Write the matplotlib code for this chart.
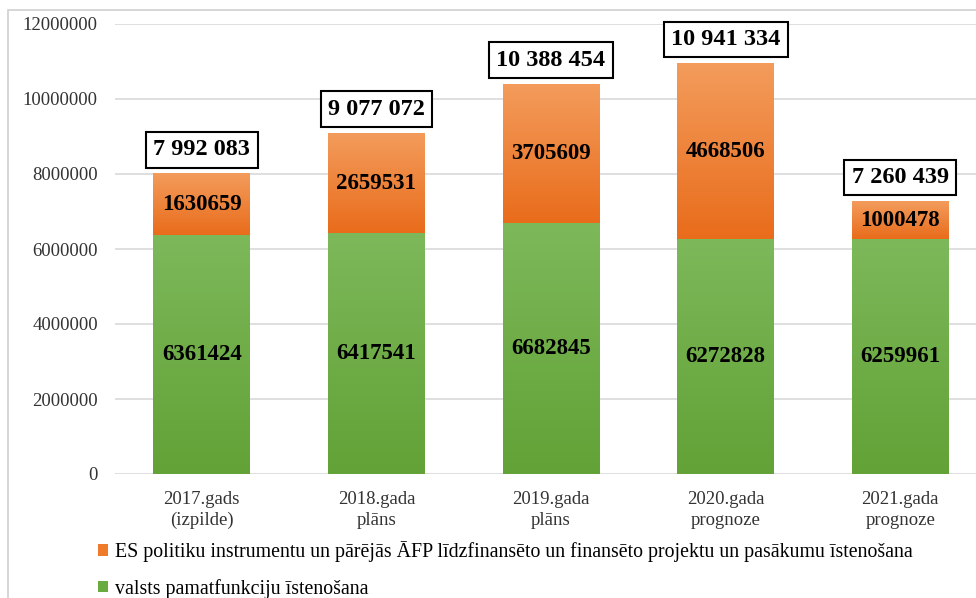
import numpy as np
import matplotlib
matplotlib.use("Agg")
import matplotlib.pyplot as plt
from matplotlib.patches import Rectangle
from matplotlib.colors import LinearSegmentedColormap

plt.rcParams['font.family'] = ['Liberation Serif', 'DejaVu Serif']

categories = ["2017.gads\n(izpilde)", "2018.gada\nplāns", "2019.gada\nplāns",
              "2020.gada\nprognoze", "2021.gada\nprognoze"]
base_values = [6361424, 6417541, 6682845, 6272828, 6259961]
eu_values = [1630659, 2659531, 3705609, 4668506, 1000478]
total_labels = ["7 992 083", "9 077 072", "10 388 454", "10 941 334", "7 260 439"]
series_names = ["ES politiku instrumentu un pārējās ĀFP līdzfinansēto un finansēto projektu un pasākumu īstenošana",
                "valsts pamatfunkciju īstenošana"]
yticks = [0, 2000000, 4000000, 6000000, 8000000, 10000000, 12000000]

W, H = 976, 598
fig = plt.figure(figsize=(W / 100, H / 100), dpi=100)
left_px, right_px, top_px, bot_px = 114.5, 987.5, 24, 474
ax = fig.add_axes([left_px / W, 1 - bot_px / H, (right_px - left_px) / W, (bot_px - top_px) / H])

x = np.arange(len(categories))
width = 0.555
green = "#6AAB40"
orange = "#EE7A2A"
b1 = ax.bar(x, base_values, width, color=green, zorder=2, label=series_names[1])
b2 = ax.bar(x, eu_values, width, bottom=base_values, color=orange, zorder=2, label=series_names[0])

# gradients
cm_g = LinearSegmentedColormap.from_list("g", ["#62A236", "#7DB85A"])
cm_o = LinearSegmentedColormap.from_list("o", ["#E96C1B", "#F39C5C"])
grad = np.linspace(0, 1, 256).reshape(-1, 1)
for bars, cm in ((b1, cm_g), (b2, cm_o)):
    for p in bars:
        x0, y0 = p.get_x(), p.get_y()
        ax.imshow(grad, extent=[x0, x0 + p.get_width(), y0, y0 + p.get_height()],
                  origin='lower', aspect='auto', cmap=cm, zorder=2.5)

ax.set_xlim(-0.5, len(categories) - 0.5)
ax.set_ylim(0, 12000000)
ax.set_yticks(yticks)
ax.set_yticklabels([str(v) for v in yticks], fontsize=13.5, color="#333333")
ax.set_xticks(x)
ax.set_xticklabels(categories, fontsize=13.5, color="#333333", linespacing=1.33)
ax.tick_params(length=0, pad=12)
ax.tick_params(axis='x', pad=12)
ax.grid(axis='y', color="#D9D9D9", lw=1.2, zorder=0)
for s in ax.spines.values():
    s.set_visible(False)
ax.set_axisbelow(True)

for i in range(len(categories)):
    ax.text(x[i], base_values[i] / 2, str(base_values[i]), ha='center', va='center',
            fontsize=16.5, fontweight='bold', zorder=4)
    ax.text(x[i], base_values[i] + eu_values[i] / 2, str(eu_values[i]), ha='center', va='center',
            fontsize=16.5, fontweight='bold', zorder=4)
    ax.annotate(total_labels[i], (x[i], base_values[i] + eu_values[i]), xytext=(0, 10),
                textcoords='offset points', ha='center', va='bottom', fontsize=17.5,
                fontweight='bold', zorder=5,
                bbox=dict(boxstyle='square,pad=0.3', fc='white', ec='black', lw=1.5))

# frame
fig.patches.append(Rectangle((8 / W, -0.1), 1.2, 1.1 - 10 / H, transform=fig.transFigure,
                             fill=False, ec="#D0D0D0", lw=1.2))

fig.legend([b2, b1], series_names, loc='upper left', bbox_to_anchor=(98 / W, 1 - 541 / H),
           frameon=False, fontsize=14.3, handlelength=0.5, handleheight=0.5,
           handletextpad=0.35, labelspacing=0.85, borderpad=0, borderaxespad=0)

fig.savefig("out.png", dpi=100)
